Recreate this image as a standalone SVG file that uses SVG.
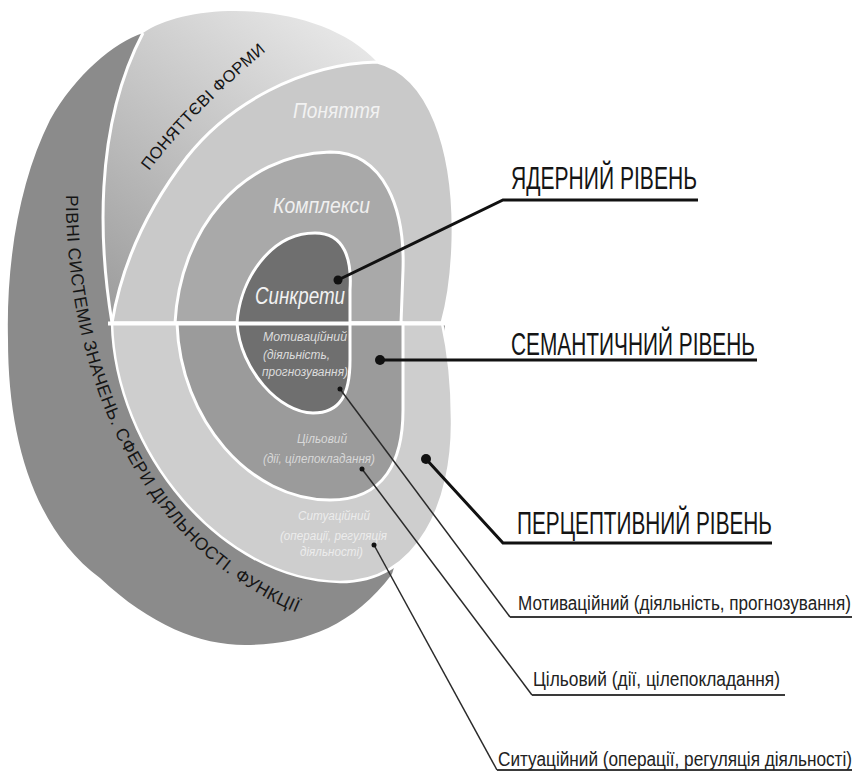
<svg xmlns="http://www.w3.org/2000/svg" width="853" height="772" viewBox="0 0 853 772">
<defs>
  <linearGradient id="gBand" gradientUnits="userSpaceOnUse" x1="110" y1="330" x2="340" y2="20">
    <stop offset="0" stop-color="#9a9a9a"/>
    <stop offset="1" stop-color="#e8e8e8"/>
  </linearGradient>
  <path id="pOuterText" d="M66,190 C64,360 130,550 310,618"/>
  <path id="pBandText" d="M149,171 Q193,112 272,46"/>
</defs>
<style>
  .edge{stroke:#ffffff;stroke-width:3;stroke-linejoin:round;}
  .inner{font-family:"Liberation Sans",Arial,sans-serif;font-style:italic;}
  .head{font-family:"Liberation Sans",Arial,sans-serif;font-size:32px;fill:#151515;}
  .lab{font-family:"Liberation Sans",Arial,sans-serif;font-size:20px;fill:#222222;}
  .band{font-family:"Liberation Sans",Arial,sans-serif;fill:#151515;}
  .lead{fill:none;stroke:#111111;stroke-width:3;}
  .thin{fill:none;stroke:#2a2a2a;stroke-width:1.5;}
  .uline{fill:none;stroke:#3a3a3a;stroke-width:2;}
  .dot{fill:#111111;}
</style>
<rect width="853" height="772" fill="#ffffff"/>

<g id="outer-band">
  <path d="M143,33 C115,42 75,75 50,120 C20,180 6,260 8,340 C8,440 35,530 100,578 C150,625 200,645 245,645 C300,645 352,628 392,574 L425,470 L445,325 Z" fill="#8b8b8b"/>
  <text class="band" font-size="17.5"><textPath href="#pOuterText" startOffset="5" textLength="506" lengthAdjust="spacing">РІВНІ СИСТЕМИ ЗНАЧЕНЬ. СФЕРИ ДІЯЛЬНОСТІ. ФУНКЦІЇ</textPath></text>
</g>

<g id="concept-forms">
  <path d="M112,323 C100,250 92,130 143,33 C190,0 320,0 377,62 C300,64 228,105 187,157 C150,205 122,262 112,323 Z" fill="url(#gBand)"/>
  <path d="M112,323 C100,250 92,130 143,33" class="edge" fill="none"/>
  <text class="band" font-size="16.5"><textPath href="#pBandText" textLength="168" lengthAdjust="spacing">ПОНЯТТЄВІ ФОРМИ</textPath></text>
</g>

<g id="ponyattia">
  <path d="M112,323 C122,262 150,205 187,157 C228,105 300,64 377,62 C430,75 455,150 453,240 C452,280 447,305 442,323 Z" fill="#c9c9c9" class="edge"/>
  <text class="inner" x="293" y="118" font-size="22" fill="#f2f2f2" textLength="87" lengthAdjust="spacingAndGlyphs">Поняття</text>
</g>

<g id="kompleksy">
  <path d="M175,323 C180,230 240,155 330,152 C385,152 405,210 403,270 L401,323 Z" fill="#a9a9a9" class="edge"/>
  <text class="inner" x="273" y="213" font-size="22" fill="#f0f0f0" textLength="97" lengthAdjust="spacingAndGlyphs">Комплекси</text>
</g>

<g id="sytuatsiinyi">
  <path d="M112,323 C115,450 220,580 340,582 C420,582 453,500 452,420 C452,380 448,350 442,323 Z" fill="#cecece" stroke="#ffffff" stroke-width="2.5"/>
  <g class="inner" font-size="12.5" fill="#ececec">
    <text x="298" y="520" textLength="72" lengthAdjust="spacingAndGlyphs">Ситуаційний</text>
    <text x="280" y="540" textLength="107" lengthAdjust="spacingAndGlyphs">(операції, регуляція</text>
    <text x="300" y="556" textLength="63" lengthAdjust="spacingAndGlyphs">діяльності)</text>
  </g>
</g>

<g id="tsilovyi">
  <path d="M177,323 C180,420 250,500 330,500 C385,500 403,460 403,410 L403,323 Z" fill="#9b9b9b" class="edge"/>
  <g class="inner" font-size="12.5" fill="#d8d8d8">
    <text x="297" y="443" textLength="50" lengthAdjust="spacingAndGlyphs">Цільовий</text>
    <text x="263" y="463" textLength="112" lengthAdjust="spacingAndGlyphs">(дії, цілепокладання)</text>
  </g>
</g>

<g id="core">
  <path d="M237,323 C240,280 270,233 315,233 C345,233 352,260 350,290 L350,360 C350,395 340,413 313,413 C280,413 240,370 237,323 Z" fill="#6f6f6f" class="edge"/>
  <text class="inner" x="255" y="304" font-size="23" fill="#f2f2f2" textLength="90" lengthAdjust="spacingAndGlyphs">Синкрети</text>
</g>

<g id="motyvatsiinyi-inner">
  <g class="inner" font-size="12.5" fill="#dcdcdc">
    <text x="263" y="341" textLength="84" lengthAdjust="spacingAndGlyphs">Мотиваційний</text>
    <text x="263" y="359" textLength="67" lengthAdjust="spacingAndGlyphs">(діяльність,</text>
    <text x="262" y="376" textLength="86" lengthAdjust="spacingAndGlyphs">прогнозування)</text>
  </g>
</g>

<g id="divider">
  <line x1="108" y1="323.5" x2="447" y2="323.5" stroke="#ffffff" stroke-width="4"/>
</g>

<g id="connectors">
  <polyline class="lead" points="338,280 503,200 698,200"/>
  <circle class="dot" cx="338" cy="280" r="4.5"/>
  <polyline class="lead" points="380,360 757,360"/>
  <circle class="dot" cx="380" cy="360" r="5"/>
  <polyline class="lead" points="426,459 503,543 772,543"/>
  <circle class="dot" cx="426" cy="459" r="5"/>
  <polyline class="thin" points="340,389 510,617"/>
  <line class="uline" x1="510" y1="617" x2="852" y2="617"/>
  <circle class="dot" cx="340" cy="389" r="2.5"/>
  <polyline class="thin" points="362,469 532,695"/>
  <line class="uline" x1="532" y1="695" x2="785" y2="695"/>
  <circle class="dot" cx="362" cy="469" r="2.5"/>
  <polyline class="thin" points="374,545 497,770"/>
  <line class="uline" x1="497" y1="770" x2="852" y2="770"/>
  <circle class="dot" cx="374" cy="545" r="2.5"/>
</g>

<g id="label-yadernyi">
  <text class="head" x="511" y="189" textLength="186" lengthAdjust="spacingAndGlyphs">ЯДЕРНИЙ РІВЕНЬ</text>
</g>
<g id="label-semantychnyi">
  <text class="head" x="511" y="355" textLength="244" lengthAdjust="spacingAndGlyphs">СЕМАНТИЧНИЙ РІВЕНЬ</text>
</g>
<g id="label-pertseptyvnyi">
  <text class="head" x="517" y="534" textLength="255" lengthAdjust="spacingAndGlyphs">ПЕРЦЕПТИВНИЙ РІВЕНЬ</text>
</g>
<g id="label-motyvatsiinyi">
  <text class="lab" x="518" y="610" textLength="333" lengthAdjust="spacingAndGlyphs">Мотиваційний (діяльність, прогнозування)</text>
</g>
<g id="label-tsilovyi">
  <text class="lab" x="533" y="686" textLength="247" lengthAdjust="spacingAndGlyphs">Цільовий (дії, цілепокладання)</text>
</g>
<g id="label-sytuatsiinyi">
  <text class="lab" x="498" y="766" textLength="354" lengthAdjust="spacingAndGlyphs">Ситуаційний (операції, регуляція діяльності)</text>
</g>
</svg>
